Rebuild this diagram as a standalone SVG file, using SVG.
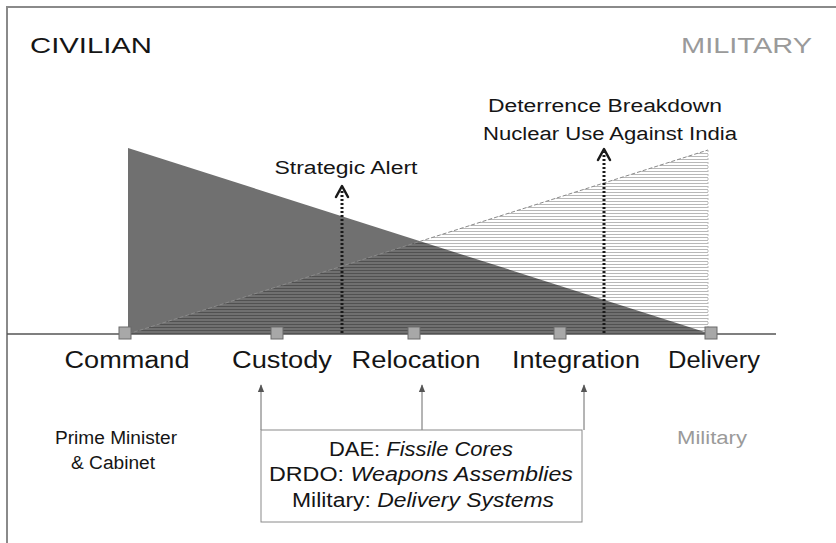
<svg xmlns="http://www.w3.org/2000/svg" width="836" height="543" viewBox="0 0 836 543">
  <style>
    text { font-family: "Liberation Sans", Arial, sans-serif; }
    .head { font-size: 22px; }
    .stage { font-size: 23px; fill: #151515; text-anchor: middle; }
    .note { font-size: 18px; fill: #151515; text-anchor: middle; }
    .grey { fill: #9a9a9a; }
    .box { font-size: 20px; fill: #151515; text-anchor: middle; }
    .node { fill: #a8a8a8; stroke: #6a6a6a; stroke-width: 1; }
    .event { fill: none; stroke: #1a1a1a; stroke-width: 3; stroke-dasharray: 2 2; }
    .chev { fill: none; stroke: #1a1a1a; stroke-width: 2.5; stroke-linecap: round; stroke-linejoin: round; }
    .feed { fill: none; stroke: #6a6a6a; stroke-width: 1; marker-end: url(#tip); }
  </style>
  <defs>
    <pattern id="hatch" width="6" height="3" patternUnits="userSpaceOnUse">
      <rect x="0" y="0" width="6" height="1" fill="#000" fill-opacity="0.28"/>
    </pattern>
    <marker id="tip" viewBox="0 0 10 10" refX="9" refY="5" markerWidth="8" markerHeight="8" orient="auto">
      <path d="M0,1 L10,5 L0,9 z" fill="#555"/>
    </marker>
  </defs>

  <rect width="836" height="543" fill="#fff"/>
  <!-- frame -->
  <path d="M7,543 V7 H836" fill="none" stroke="#8a8a8a" stroke-width="2"/>

  <text id="civilian" class="head" x="30" y="53" textLength="122" lengthAdjust="spacingAndGlyphs" fill="#151515">CIVILIAN</text>
  <text id="military-head" class="head grey" x="681" y="53" textLength="131" lengthAdjust="spacingAndGlyphs">MILITARY</text>

  <!-- authority areas -->
  <g id="civil-area">
    <polygon points="128,148 128,334 711,334" fill="#707070"/>
  </g>
  <g id="military-area">
    <polygon points="128,334 708,150 708,334" fill="url(#hatch)"/>
    <path d="M128,334 L708,150" fill="none" stroke="#8a8a8a" stroke-width="1" stroke-dasharray="4 2"/>
    <path d="M708,150 V334" fill="none" stroke="#bbb" stroke-width="1" stroke-dasharray="2 2"/>
  </g>

  <g id="connectors">
    <!-- axis -->
    <path d="M7,334 H776" stroke="#555" stroke-width="1.5" fill="none"/>
    <!-- escalation events -->
    <path class="event" d="M342,333 V189"/>
    <path class="chev" d="M336,197 L342,186 L348,197"/>
    <path class="event" d="M604,333 V152"/>
    <path class="chev" d="M598,160 L604,149 L610,160"/>
    <!-- custodians feeding stages -->
    <path class="feed" d="M261,430 V385"/>
    <path class="feed" d="M422,430 V385"/>
    <path class="feed" d="M584,430 V385"/>
  </g>

  <g id="command"><rect class="node" x="119" y="327" width="12" height="12"/>
    <text class="stage" x="127" y="368" textLength="125" lengthAdjust="spacingAndGlyphs">Command</text></g>
  <g id="custody"><rect class="node" x="271" y="327" width="12" height="12"/>
    <text class="stage" x="282" y="368" textLength="100" lengthAdjust="spacingAndGlyphs">Custody</text></g>
  <g id="relocation"><rect class="node" x="408" y="327" width="12" height="12"/>
    <text class="stage" x="416" y="368" textLength="129" lengthAdjust="spacingAndGlyphs">Relocation</text></g>
  <g id="integration"><rect class="node" x="554" y="327" width="12" height="12"/>
    <text class="stage" x="576" y="368" textLength="128" lengthAdjust="spacingAndGlyphs">Integration</text></g>
  <g id="delivery"><rect class="node" x="705" y="327" width="12" height="12"/>
    <text class="stage" x="714" y="368" textLength="92" lengthAdjust="spacingAndGlyphs">Delivery</text></g>

  <g id="strategic-alert">
    <text class="note" x="346" y="174" textLength="143" lengthAdjust="spacingAndGlyphs">Strategic Alert</text>
  </g>
  <g id="deterrence-breakdown">
    <text class="note" x="605" y="112" textLength="234" lengthAdjust="spacingAndGlyphs">Deterrence Breakdown</text>
    <text class="note" x="610" y="140" textLength="254" lengthAdjust="spacingAndGlyphs">Nuclear Use Against India</text>
  </g>

  <g id="prime-minister">
    <text class="note" x="116" y="444" textLength="122" lengthAdjust="spacingAndGlyphs">Prime Minister</text>
    <text class="note" x="113" y="469" textLength="84" lengthAdjust="spacingAndGlyphs">&amp; Cabinet</text>
  </g>
  <g id="military-label">
    <text class="note grey" x="712" y="444" textLength="70" lengthAdjust="spacingAndGlyphs">Military</text>
  </g>

  <g id="custodians">
    <rect x="261" y="430" width="321" height="92" fill="#fff" stroke="#8a8a8a" stroke-width="1"/>
    <text class="box" x="421" y="456" textLength="184" lengthAdjust="spacingAndGlyphs">DAE: <tspan font-style="italic">Fissile Cores</tspan></text>
    <text class="box" x="421" y="481" textLength="304" lengthAdjust="spacingAndGlyphs">DRDO: <tspan font-style="italic">Weapons Assemblies</tspan></text>
    <text class="box grey" x="423" y="507" textLength="262" lengthAdjust="spacingAndGlyphs">Military: <tspan font-style="italic">Delivery Systems</tspan></text>
  </g>
</svg>
